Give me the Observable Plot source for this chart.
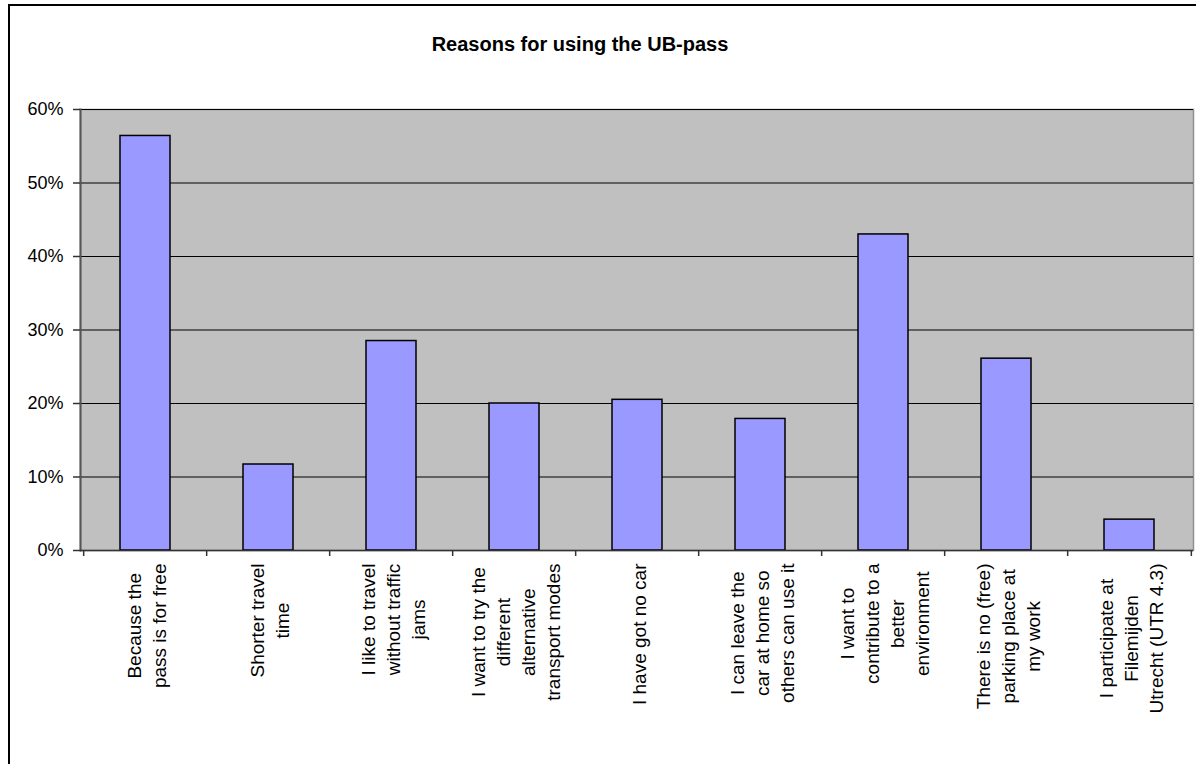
<!DOCTYPE html>
<html>
<head>
<meta charset="utf-8">
<script src="https://cdn.jsdelivr.net/npm/d3@7"></script>
<script src="https://cdn.jsdelivr.net/npm/@observablehq/plot@0.6"></script>
<style>
  html, body { margin: 0; padding: 0; background: #fff; overflow: hidden; width: 1196px; height: 764px; }
  #frame { position: absolute; left: 8px; top: 4px; width: 1300px; height: 900px; border: 2px solid #000; box-sizing: border-box; }
  #title { position: absolute; left: 0; top: 32px; width: 1160px; text-align: center;
           font: bold 20px Arial, "Liberation Sans", sans-serif; line-height: 24px; color: #000; }
  #chart { position: absolute; left: 0; top: 90px; }
</style>
</head>
<body>
<div id="frame"></div>
<div id="title">Reasons for using the UB-pass</div>
<div id="chart"></div>
<script>
const categories = [
  "Because the\npass is for free",
  "Shorter travel\ntime",
  "I like to travel\nwithout traffic\njams",
  "I want to try the\ndifferent\nalternative\ntransport modes",
  "I have got no car",
  "I can leave the\ncar at home so\nothers can use it",
  "I want to\ncontribute to a\nbetter\nenvironment",
  "There is no (free)\nparking place at\nmy work",
  "I participate at\nFilemijden\nUtrecht (UTR 4.3)"
];
const shares = [0.564, 0.117, 0.285, 0.200, 0.205, 0.179, 0.430, 0.261, 0.042];
const yTicks = [0, 0.1, 0.2, 0.3, 0.4, 0.5, 0.6];

const data = categories.map((c, i) => ({category: c, share: shares[i]}));

const W = 1196, H = 674;
const mL = 80, mR = 3, mT = 19, mB = 214;
const step = (W - mL - mR) / categories.length;
const labelFont = 19;
const font = `${labelFont}px Arial, "Liberation Sans", sans-serif`;
const ctx = document.createElement("canvas").getContext("2d");
ctx.font = font;
const longest = c => d3.max(c.split("\n"), l => ctx.measureText(l).width);

const labelMarks = categories.map(c => Plot.text([c], {
  x: d => d, text: d => d, frameAnchor: "bottom", rotate: -90,
  textAnchor: "middle", lineAnchor: "middle", lineHeight: 25 / labelFont,
  fontSize: labelFont, fill: "#000", dy: 13 + longest(c) / 2
}));

const chart = Plot.plot({
  width: W, height: H,
  marginLeft: mL, marginRight: mR, marginTop: mT, marginBottom: mB,
  style: {fontFamily: 'Arial, "Liberation Sans", sans-serif', background: "transparent", color: "#000"},
  x: {domain: categories, paddingInner: 0.596, paddingOuter: 0.298, axis: null},
  y: {domain: [0, 0.6], axis: null},
  marks: [
    Plot.frame({fill: "#C0C0C0", stroke: "#909090", strokeWidth: 1.5}),
    Plot.ruleY(yTicks.slice(1), {stroke: "#000", strokeWidth: 1.2}),
    Plot.barY(data, {x: "category", y: "share", fill: "#9999FF", stroke: "#000", strokeWidth: 1.5}),
    Plot.frame({anchor: "left", stroke: "#555", strokeWidth: 2}),
    Plot.ruleY([0], {stroke: "#333", strokeWidth: 1.5}),
    Plot.axisY({ticks: yTicks, tickFormat: d3.format(".0%"), tickSize: 7, tickPadding: 10,
                fontSize: 18, stroke: "#333", strokeWidth: 1.5, label: null}),
    Plot.axisX({ticks: categories, tickSize: 6, tickFormat: () => "", dx: -step / 2,
                stroke: "#333", strokeWidth: 1.5, label: null}),
    Plot.axisX({ticks: categories.slice(-1), tickSize: 6, tickFormat: () => "", dx: step / 2,
                stroke: "#333", strokeWidth: 1.5, label: null}),
    ...labelMarks
  ]
});
document.getElementById("chart").appendChild(chart);
</script>
</body>
</html>
